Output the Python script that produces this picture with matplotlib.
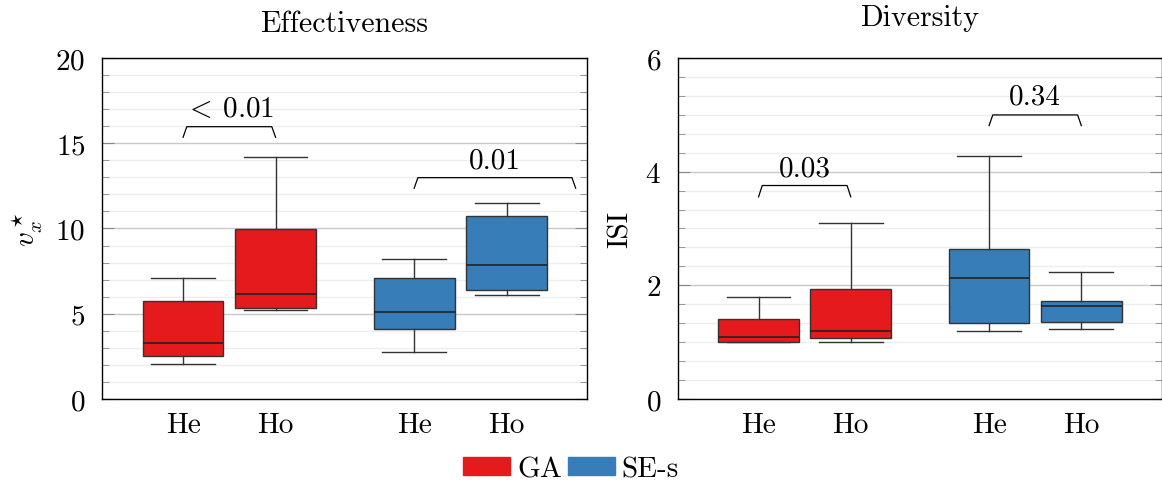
import numpy as np
import matplotlib.pyplot as plt
from matplotlib.patches import Patch
from matplotlib.ticker import MultipleLocator

plt.rcParams['font.family'] = 'cmr10'
plt.rcParams['mathtext.fontset'] = 'cm'
plt.rcParams['axes.formatter.use_mathtext'] = True

# Data (box stats)
labels = ["He", "Ho", "He", "Ho"]
series = ["GA", "GA", "SE-s", "SE-s"]

eff_whislo = [2.05, 5.20, 2.75, 6.12]
eff_q1     = [2.52, 5.34, 4.10, 6.37]
eff_med    = [3.27, 6.14, 5.08, 7.86]
eff_q3     = [5.77, 9.95, 7.10, 10.71]
eff_whishi = [7.12, 14.19, 8.19, 11.50]

div_whislo = [1.00, 1.00, 1.20, 1.23]
div_q1     = [1.00, 1.07, 1.34, 1.35]
div_med    = [1.09, 1.20, 2.13, 1.64]
div_q3     = [1.41, 1.94, 2.64, 1.72]
div_whishi = [1.80, 3.10, 4.28, 2.23]

eff_pvals = [r"$<\:0.01$", "0.01"]
div_pvals = ["0.03", "0.34"]

colors = {"GA": "#e41a1c", "SE-s": "#377eb8"}
pos = [1, 2, 3.5, 4.5]

fig = plt.figure(figsize=(11.62, 4.85), dpi=100)
ax1 = fig.add_axes([0.0878, 0.1753, 0.4174, 0.7031])
ax2 = fig.add_axes([0.5832, 0.1753, 0.4164, 0.7031])


def draw(ax, lo, q1, med, q3, hi, ymax, major, minor):
    stats = [dict(whislo=a, q1=b, med=c, q3=d, whishi=e, fliers=[])
             for a, b, c, d, e in zip(lo, q1, med, q3, hi)]
    bp = ax.bxp(stats, positions=pos, widths=0.874, capwidths=0.69,
                patch_artist=True, showfliers=False,
                boxprops=dict(edgecolor='#333333', linewidth=1.0),
                medianprops=dict(color='#222222', linewidth=1.2),
                whiskerprops=dict(color='#333333', linewidth=1.0),
                capprops=dict(color='#333333', linewidth=1.0))
    for box, s in zip(bp['boxes'], series):
        box.set_facecolor(colors[s])
    ax.set_xlim(0.123, 5.37)
    ax.set_ylim(0, ymax)
    ax.set_xticks(pos)
    ax.set_xticklabels(labels)
    ax.yaxis.set_major_locator(MultipleLocator(major))
    ax.yaxis.set_minor_locator(MultipleLocator(minor))
    ax.grid(axis='y', which='major', color='#c8c8c8', lw=1.0)
    ax.grid(axis='y', which='minor', color='#eeeeee', lw=1.0)
    ax.set_axisbelow(True)
    ax.tick_params(axis='x', length=0, pad=9, labelsize=21)
    ax.tick_params(axis='y', which='both', direction='in', left=True, right=True,
                   color='#888888', labelsize=21, pad=12)
    ax.tick_params(axis='y', which='major', length=8.5)
    ax.tick_params(axis='y', which='minor', length=5.3)
    for sp in ax.spines.values():
        sp.set_linewidth(1.0)


def bracket(ax, x1, x2, ytop, ylow, text, ytext):
    d = 0.04
    ax.plot([x1, x1 + d, x2 - d, x2], [ylow, ytop, ytop, ylow], color='black', lw=0.9)
    ax.text((x1 + x2) / 2, ytext, text, ha='center', va='baseline', fontsize=21)


draw(ax1, eff_whislo, eff_q1, eff_med, eff_q3, eff_whishi, 20, 5, 1)
draw(ax2, div_whislo, div_q1, div_med, div_q3, div_whishi, 6, 2, 1 / 3)

bracket(ax1, 1, 2, 15.97, 15.35, eff_pvals[0], 16.62)
bracket(ax1, 3.5, 5.247, 12.98, 12.36, eff_pvals[1], 13.59)
bracket(ax2, 1, 2, 3.756, 3.557, div_pvals[0], 3.937)
bracket(ax2, 3.5, 4.5, 4.998, 4.81, div_pvals[1], 5.197)

ax1.text(0.5, 1.078, "Effectiveness", transform=ax1.transAxes, ha='center',
         va='baseline', fontsize=21.5)
ax2.text(0.5, 1.097, "Diversity", transform=ax2.transAxes, ha='center',
         va='baseline', fontsize=21.5)

ax1.set_ylabel(r"$v_x^\star$", fontsize=21, va='center')
ax1.yaxis.set_label_coords(-0.153, 0.5)
ax2.set_ylabel("ISI", fontsize=21, va='center')
ax2.yaxis.set_label_coords(-0.119, 0.5)

handles = [Patch(facecolor=colors["GA"], edgecolor=colors["GA"], label="GA"),
           Patch(facecolor=colors["SE-s"], edgecolor=colors["SE-s"], label="SE-s")]
fig.legend(handles=handles, loc='center', bbox_to_anchor=(0.4915, 0.031), ncol=2,
           frameon=False, fontsize=21, handlelength=1.6, handleheight=0.55,
           handletextpad=0.25, columnspacing=0.2, borderaxespad=0, borderpad=0)

fig.savefig("out.png", dpi=100)
